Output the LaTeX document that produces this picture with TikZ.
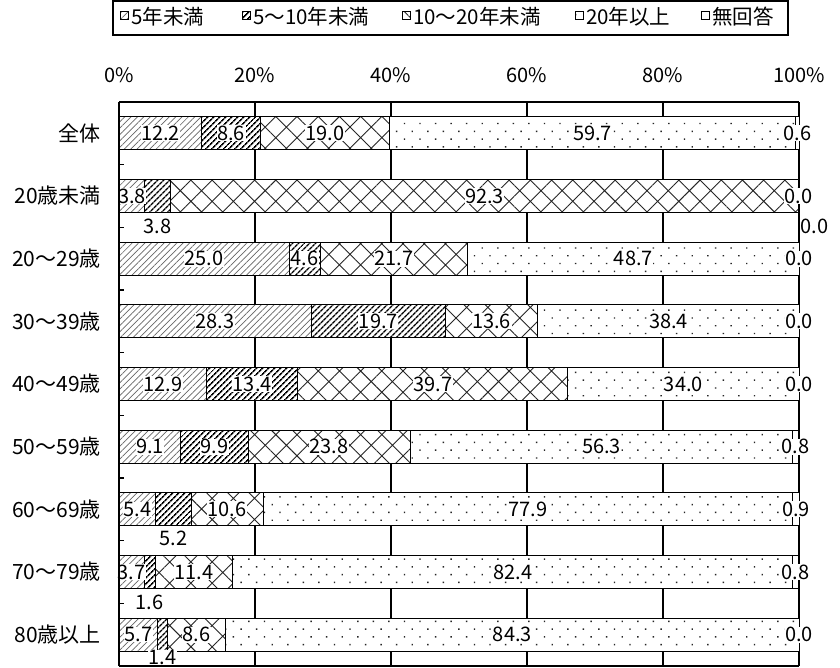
\documentclass[tikz,border=0pt]{standalone}
\usepackage{fontspec}
\setmainfont{Noto Sans CJK JP}
\usetikzlibrary{patterns.meta}

\tikzstyle{seg} = [draw, line width=1pt, preaction={fill=white}]
\tikzstyle{segA} = [seg, pattern={Lines[angle=45,distance=4.5pt,line width=0.7pt]}, pattern color=black!60]
\tikzstyle{segB} = [seg, pattern={Lines[angle=45,distance=4pt,line width=1.6pt]}]
\tikzstyle{segC} = [seg, pattern={Hatch[angle=45,distance=15pt,line width=0.9pt]}, pattern color=black!85]
\tikzstyle{segD} = [seg, pattern={Dots[angle=45,distance=11pt,radius=1pt]}, pattern color=black!85]
\tikzstyle{segE} = [seg]
\tikzstyle{val} = [fill=white, inner sep=0.5pt, font=\fontsize{20}{20}\selectfont]
\tikzstyle{cat} = [anchor=east, inner sep=0pt, font=\fontsize{21}{21}\selectfont]
\tikzstyle{tick} = [font=\fontsize{20}{20}\selectfont]
\tikzstyle{key} = [anchor=west, inner sep=0pt, font=\fontsize{20.5}{20.5}\selectfont]

\begin{document}
\begin{tikzpicture}[x=1pt,y=-1pt]
	\useasboundingbox (0,0) rectangle (840,668);
	
	% legend
	\draw[line width=1.2pt] (113,1) rectangle (788,35);
	\path[segA] (120,12) rectangle (128,20);
	\node[key] (k1) at (131,17) {5年未満};
	\path[segB] (242,12) rectangle (250,20);
	\node[key] (k2) at (253,17) {5〜10年未満};
	\path[segC] (402,12) rectangle (410,20);
	\node[key] (k3) at (413,17) {10〜20年未満};
	\path[segD] (575,12) rectangle (583,20);
	\node[key] (k4) at (586,17) {20年以上};
	\path[segE] (701,12) rectangle (709,20);
	\node[key] (k5) at (712,17) {無回答};
	
	% scale and grid
	\foreach \p in {0,20,40,60,80,100}{
		\node[tick] (t\p) at (119+6.8*\p,75) {\p\%};
		\draw[line width=1.2pt] (119+6.8*\p,102) -- (119+6.8*\p,666);
	}
	
	% bars
	\foreach \name/\a/\b/\c/\d/\e/\oy/\ox/\oz [count=\i from 0] in {
		全体/12.2/8.6/19.0/59.7/0.6/0/0/0,
		20歳未満/3.8/3.8/92.3/0.0/0.0/30/16/30,
		20〜29歳/25.0/4.6/21.7/48.7/0.0/0/0/0,
		30〜39歳/28.3/19.7/13.6/38.4/0.0/0/0/0,
		40〜49歳/12.9/13.4/39.7/34.0/0.0/0/0/0,
		50〜59歳/9.1/9.9/23.8/56.3/0.8/0/0/0,
		60〜69歳/5.4/5.2/10.6/77.9/0.9/29/0/0,
		70〜79歳/3.7/1.6/11.4/82.4/0.8/30/0/0,
		80歳以上/5.7/1.4/8.6/84.3/0.0/23/0/0}{
		\pgfmathsetmacro\yc{102+62.67*(\i+0.5)}
		\pgfmathsetmacro\xb{119+6.8*\a}
		\pgfmathsetmacro\xc{\xb+6.8*\b}
		\pgfmathsetmacro\xd{\xc+6.8*\c}
		\pgfmathsetmacro\xe{\xd+6.8*\d}
		\pgfmathsetmacro\xf{\xe+6.8*\e}
		\node[cat] (c\i) at (101,\yc) {\name};
		\path[segA] (119,\yc-16.5) rectangle (\xb,\yc+16.5);
		\path[segB] (\xb,\yc-16.5) rectangle (\xc,\yc+16.5);
		\path[segC] (\xc,\yc-16.5) rectangle (\xd,\yc+16.5);
		\path[segD] (\xd,\yc-16.5) rectangle (\xe,\yc+16.5);
		\path[segE] (\xe,\yc-16.5) rectangle (\xf,\yc+16.5);
		\node[val] (v\i a) at ({(119+\xb)/2},\yc) {\a};
		\node[val] (v\i b) at ({(\xb+\xc)/2},\yc+\oy) {\b};
		\node[val] (v\i c) at ({(\xc+\xd)/2},\yc) {\c};
		\node[val] (v\i d) at ({(\xd+\xe)/2},\yc) {\d};
		\node[val] (v\i e) at ({(\xe+\xf)/2+\ox},\yc+\oz) {\e};
		\draw[line width=1.2pt] (119,{102+62.67*(\i+1)}) -- (124,{102+62.67*(\i+1)});
	}
	
	% frame
	\draw[line width=1.2pt] (119,102) -- (799,102);
	\draw[line width=1.2pt] (119,666) -- (799,666);
	\draw[line width=1.4pt] (119,102) -- (119,666);
\end{tikzpicture}
\end{document}
